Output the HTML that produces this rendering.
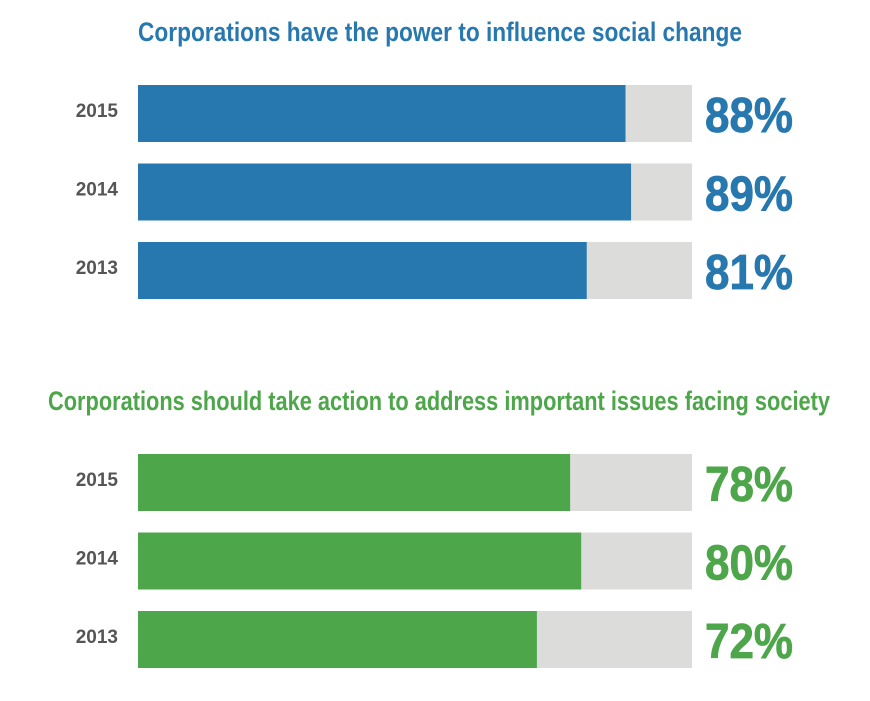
<!DOCTYPE html>
<html><head><meta charset="utf-8"><style>
html,body{margin:0;padding:0;background:#fff;width:870px;height:701px;overflow:hidden}
svg text{font-family:"Liberation Sans Narrow","Liberation Sans",sans-serif;font-weight:bold}
</style></head><body>
<svg id="chart" width="870" height="701" xmlns="http://www.w3.org/2000/svg"></svg>
<script>
const years = ["2015","2014","2013"];
const powerValues = [88, 89, 81];
const actionValues = [78, 80, 72];
const titles = ["Corporations have the power to influence social change","Corporations should take action to address important issues facing society"];
const NS="http://www.w3.org/2000/svg";
const svg=document.getElementById('chart');
const x0=138, trackW=554;
function xScale(v){return trackW*v/100;}
function mk(tag,attrs,txt){const e=document.createElementNS(NS,tag);for(const k in attrs)e.setAttribute(k,attrs[k]);if(txt!==undefined)e.textContent=txt;svg.appendChild(e);return e;}
const groups=[
 {vals:powerValues,color:"#2878b0",title:titles[0],ty:41,tx:138,tw:604,top:85,name:'power'},
 {vals:actionValues,color:"#4ea64a",title:titles[1],ty:410,tx:48,tw:782,top:454,name:'action'}
];
groups.forEach(g=>{
 const t=mk('text',{x:g.tx,y:g.ty,fill:g.color,'font-size':27,textLength:g.tw,lengthAdjust:'spacingAndGlyphs'},g.title);
 
 
 g.vals.forEach((v,i)=>{
  const y=g.top+i*78.5;
  const tr=mk('rect',{x:x0,y:y,width:trackW,height:57,fill:"#dcdddb"});
  
  
  const b=mk('rect',{x:x0,y:y,width:xScale(v),height:57,fill:g.color});
  
  
  const yl=mk('text',{x:118,y:y+32,fill:"#555",'font-size':19,'text-anchor':'end'},years[i]);
  
  
  const vl=mk('text',{x:705,y:y+47,fill:g.color,stroke:g.color,'stroke-width':0.8,'font-size':49,textLength:88,lengthAdjust:'spacingAndGlyphs'},v+'%');
  
  
 });
});
</script>
</body></html>
